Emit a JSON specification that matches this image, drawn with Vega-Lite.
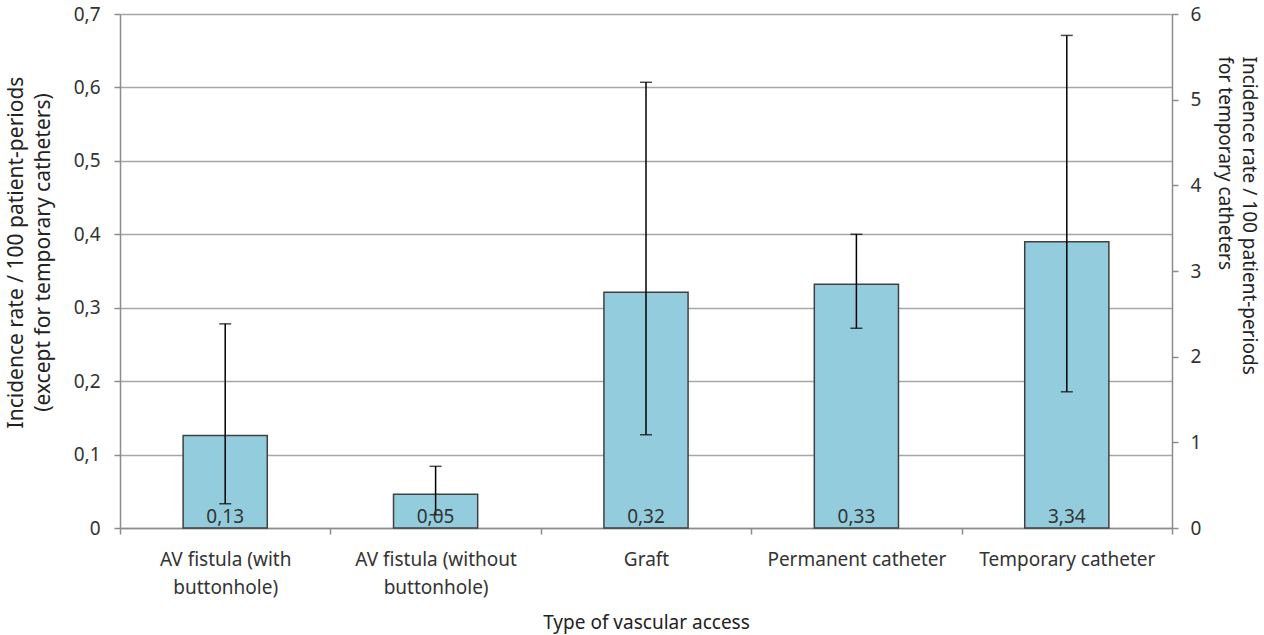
{
  "$schema": "https://vega.github.io/schema/vega-lite/v6.json",
  "width": 1052,
  "height": 514,
  "autosize": "none",
  "padding": {"left": 120, "top": 14, "right": 92, "bottom": 107},
  "background": "white",
  "data": {
    "values": [
      {"access": "AV fistula (with buttonhole)", "side": "left", "rate": 0.126, "lo": 0.033, "hi": 0.278},
      {"access": "AV fistula (without buttonhole)", "side": "left", "rate": 0.046, "lo": 0.018, "hi": 0.084},
      {"access": "Graft", "side": "left", "rate": 0.321, "lo": 0.127, "hi": 0.607},
      {"access": "Permanent catheter", "side": "left", "rate": 0.332, "lo": 0.272, "hi": 0.4},
      {"access": "Temporary catheter", "side": "right", "rate": 3.34, "lo": 1.59, "hi": 5.75}
    ]
  },
  "encoding": {
    "x": {
      "field": "access",
      "type": "nominal",
      "sort": null,
      "scale": {"type": "band", "paddingInner": 0, "paddingOuter": 0},
      "axis": {
        "title": "Type of vascular access",
        "labelAngle": 0,
        "tickBand": "extent",
        "tickSize": 6,
        "labelPadding": 16,
        "labelLineHeight": 28,
        "titlePadding": 16,
        "labelExpr": "indexof(datum.label, ' buttonhole') > 0 ? [substring(datum.label, 0, indexof(datum.label, ' buttonhole')), 'buttonhole)'] : datum.label"
      }
    }
  },
  "layer": [
    {
      "transform": [{"filter": "datum.side == 'left'"}],
      "encoding": {
        "y": {
          "field": "rate",
          "type": "quantitative",
          "title": ["Incidence rate / 100 patient-periods", "(except for temporary catheters)"],
          "scale": {"domain": [0, 0.7], "nice": false, "zero": true},
          "axis": {
            "orient": "left",
            "values": [0, 0.1, 0.2, 0.3, 0.4, 0.5, 0.6, 0.7],
            "format": ".1f",
            "labelExpr": "datum.value == 0 ? '0' : datum.label",
            "grid": true,
            "tickSize": 6,
            "labelPadding": 14,
            "titlePadding": 20,
            "titleFontSize": 21,
            "titleLineHeight": 27,
            "titleY": 238
          }
        }
      },
      "layer": [
        {"mark": {"type": "bar", "width": {"band": 0.4}, "fill": "#93CDDD", "stroke": "#404040", "strokeWidth": 1.5}},
        {
          "mark": {"type": "rule", "color": "black", "strokeWidth": 1.5},
          "encoding": {
            "y": {"field": "lo", "type": "quantitative", "title": ["Incidence rate / 100 patient-periods", "(except for temporary catheters)"]},
            "y2": {"field": "hi"}
          }
        },
        {
          "mark": {"type": "tick", "color": "black", "size": 12, "thickness": 1.5},
          "encoding": {"y": {"field": "lo", "type": "quantitative", "title": ["Incidence rate / 100 patient-periods", "(except for temporary catheters)"]}}
        },
        {
          "mark": {"type": "tick", "color": "black", "size": 12, "thickness": 1.5},
          "encoding": {"y": {"field": "hi", "type": "quantitative", "title": ["Incidence rate / 100 patient-periods", "(except for temporary catheters)"]}}
        },
        {
          "mark": {"type": "text", "baseline": "middle", "dy": -11, "fontSize": 19, "color": "#333333"},
          "encoding": {
            "y": {"datum": 0, "type": "quantitative"},
            "text": {"field": "rate", "type": "quantitative", "format": ".2f"}
          }
        }
      ]
    },
    {
      "transform": [{"filter": "datum.side == 'right'"}],
      "encoding": {
        "y": {
          "field": "rate",
          "type": "quantitative",
          "title": ["Incidence rate / 100 patient-periods", "for temporary catheters"],
          "scale": {"domain": [0, 6], "nice": false, "zero": true},
          "axis": {
            "orient": "right",
            "values": [0, 1, 2, 3, 4, 5, 6],
            "format": "d",
            "grid": false,
            "tickSize": 6,
            "labelPadding": 12,
            "titlePadding": 14,
            "titleAlign": "left",
            "titleY": 42,
            "titleLineHeight": 24
          }
        }
      },
      "layer": [
        {"mark": {"type": "bar", "width": {"band": 0.4}, "fill": "#93CDDD", "stroke": "#404040", "strokeWidth": 1.5}},
        {
          "mark": {"type": "rule", "color": "black", "strokeWidth": 1.5},
          "encoding": {
            "y": {"field": "lo", "type": "quantitative", "title": ["Incidence rate / 100 patient-periods", "for temporary catheters"]},
            "y2": {"field": "hi"}
          }
        },
        {
          "mark": {"type": "tick", "color": "black", "size": 12, "thickness": 1.5},
          "encoding": {"y": {"field": "lo", "type": "quantitative", "title": ["Incidence rate / 100 patient-periods", "for temporary catheters"]}}
        },
        {
          "mark": {"type": "tick", "color": "black", "size": 12, "thickness": 1.5},
          "encoding": {"y": {"field": "hi", "type": "quantitative", "title": ["Incidence rate / 100 patient-periods", "for temporary catheters"]}}
        },
        {
          "mark": {"type": "text", "baseline": "middle", "dy": -11, "fontSize": 19, "color": "#333333"},
          "encoding": {
            "y": {"datum": 0, "type": "quantitative"},
            "text": {"field": "rate", "type": "quantitative", "format": ".2f"}
          }
        }
      ]
    }
  ],
  "resolve": {"scale": {"y": "independent"}, "axis": {"y": "independent"}},
  "config": {
    "locale": {
      "number": {"decimal": ",", "thousands": ".", "grouping": [3], "currency": ["", " €"]}
    },
    "font": "Noto Sans",
    "view": {"stroke": null},
    "axis": {
      "domainColor": "#8c8c8c",
      "domainWidth": 1.5,
      "tickColor": "#8c8c8c",
      "tickWidth": 1.5,
      "gridColor": "#a6a6a6",
      "gridWidth": 1.5,
      "labelFont": "Noto Sans",
      "labelFontSize": 19,
      "labelColor": "#333333",
      "titleFont": "Noto Sans",
      "titleFontSize": 19,
      "titleFontWeight": "normal",
      "titleColor": "#222222",
      "titleLineHeight": 24
    }
  }
}
